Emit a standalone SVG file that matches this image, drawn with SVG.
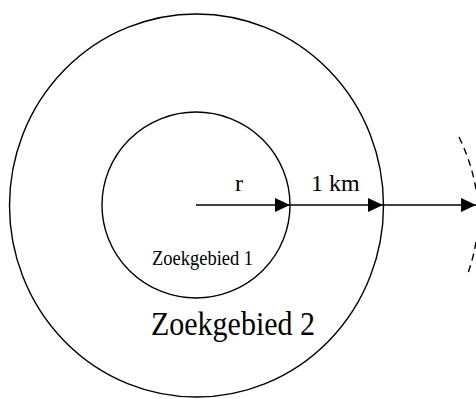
<svg xmlns="http://www.w3.org/2000/svg" width="476" height="399" viewBox="0 0 476 399">
<style>
.c{fill:none;stroke:#000;stroke-width:1.4}
.a{fill:none;stroke:#000;stroke-width:1.4}
.d{fill:none;stroke:#000;stroke-width:1.4;stroke-dasharray:7 5}
text{font-family:"Liberation Serif","Times New Roman",serif;fill:#000}
</style>
<defs>
<marker id="ah" markerUnits="userSpaceOnUse" markerWidth="16" markerHeight="16" refX="15" refY="7" orient="auto">
<path d="M0,0 L15,7 L0,14 Z" fill="#000"/>
</marker>
</defs>
<rect width="476" height="399" fill="#fff"/>
<g id="zoekgebied2">
<ellipse class="c" cx="196.5" cy="205.5" rx="187" ry="191.5"/>
<text transform="translate(151,335) scale(1,1.1)" font-size="30">Zoekgebied 2</text>
</g>
<g id="zoekgebied1">
<ellipse class="c" cx="196" cy="205" rx="94" ry="93"/>
<text transform="translate(152,265) scale(1,1.12)" font-size="18.5">Zoekgebied 1</text>
</g>
<g id="boundary">
<path class="d" d="M459,137 Q492,205 468,273"/>
</g>
<g id="connectors">
<line class="a" x1="196" y1="205" x2="290" y2="205" marker-end="url(#ah)"/>
<line class="a" x1="290" y1="205" x2="383" y2="205" marker-end="url(#ah)"/>
<line class="a" x1="383" y1="205" x2="476" y2="205" marker-end="url(#ah)"/>
<text x="235" y="191" font-size="24">r</text>
<text x="311" y="191" font-size="24">1 km</text>
</g>
</svg>
